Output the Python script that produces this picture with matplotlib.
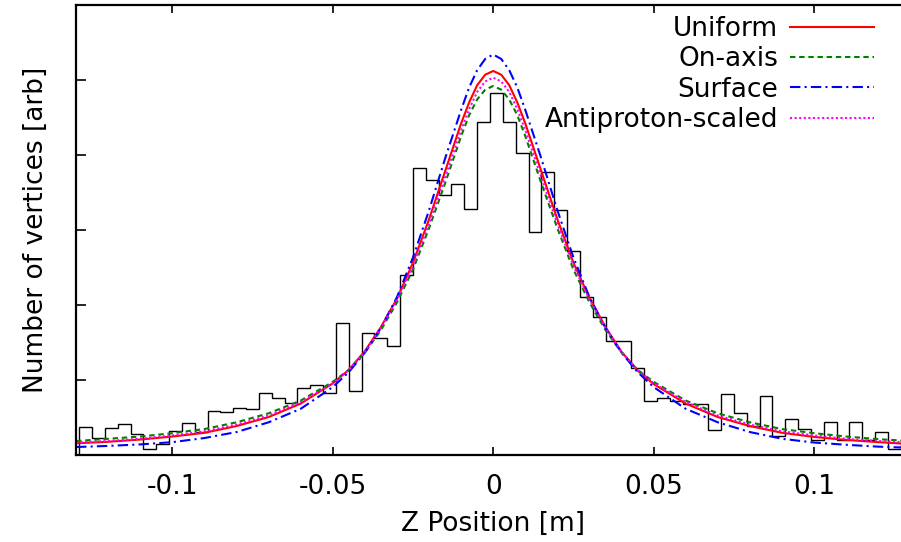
import numpy as np
import matplotlib
matplotlib.use('Agg')
import matplotlib.pyplot as plt

plt.rcParams['font.family'] = ['DejaVu Sans']
plt.rcParams['axes.unicode_minus'] = False

# histogram: 0.004 m bins starting at -0.129 m
bin_start = -0.129
bin_width = 0.004
counts = [0.37, 0.22, 0.35, 0.41, 0.27, 0.08, 0.14, 0.31, 0.42, 0.30,
          0.58, 0.57, 0.62, 0.61, 0.82, 0.76, 0.69, 0.89, 0.93, 0.82,
          1.75, 0.85, 1.62, 1.56, 1.45, 2.39, 3.83, 3.67, 3.46, 3.61,
          3.28, 4.44, 4.83, 4.44, 4.02, 2.97, 3.77, 3.27, 2.72, 2.10,
          1.83, 1.52, 1.52, 1.16, 0.72, 0.76, 0.72, 0.68, 0.68, 0.33,
          0.81, 0.55, 0.38, 0.78, 0.25, 0.47, 0.34, 0.20, 0.43, 0.19,
          0.44, 0.20, 0.30, 0.07, 0.20]

# fitted curves
z = [-0.13, -0.12, -0.11, -0.10, -0.09, -0.08, -0.07, -0.06, -0.05, -0.045,
     -0.04, -0.035, -0.03, -0.025, -0.02, -0.015, -0.01, -0.0075, -0.005, -0.0025,
     0.0,
     0.0025, 0.005, 0.0075, 0.01, 0.015, 0.02, 0.025, 0.03, 0.035, 0.04,
     0.045, 0.05, 0.06, 0.07, 0.08, 0.09, 0.10, 0.11, 0.12, 0.13]

uniform = [0.15, 0.17, 0.20, 0.24, 0.29, 0.38, 0.50, 0.68, 0.95, 1.13,
           1.38, 1.70, 2.08, 2.56, 3.14, 3.78, 4.42, 4.70, 4.93, 5.07,
           5.12,
           5.07, 4.93, 4.70, 4.42, 3.78, 3.14, 2.56, 2.09, 1.70, 1.37,
           1.12, 0.94, 0.68, 0.50, 0.38, 0.29, 0.235, 0.195, 0.165, 0.14]

on_axis = [0.18, 0.21, 0.24, 0.285, 0.34, 0.43, 0.55, 0.72, 0.97, 1.13,
           1.36, 1.66, 2.03, 2.47, 3.02, 3.62, 4.25, 4.53, 4.74, 4.87,
           4.92,
           4.87, 4.74, 4.53, 4.25, 3.62, 3.02, 2.47, 2.03, 1.66, 1.36,
           1.13, 0.97, 0.72, 0.55, 0.43, 0.34, 0.285, 0.24, 0.205, 0.18]

surface = [0.10, 0.115, 0.135, 0.165, 0.22, 0.30, 0.43, 0.61, 0.90, 1.10,
           1.36, 1.69, 2.10, 2.63, 3.26, 3.95, 4.60, 4.90, 5.13, 5.28,
           5.34,
           5.28, 5.13, 4.90, 4.60, 3.95, 3.26, 2.63, 2.10, 1.69, 1.36,
           1.10, 0.90, 0.61, 0.43, 0.30, 0.21, 0.16, 0.13, 0.105, 0.09]

antiproton = [0.16, 0.18, 0.21, 0.255, 0.31, 0.40, 0.52, 0.70, 0.95, 1.13,
              1.37, 1.69, 2.07, 2.52, 3.08, 3.70, 4.33, 4.61, 4.84, 4.98,
              5.03,
              4.98, 4.84, 4.61, 4.33, 3.70, 3.08, 2.52, 2.07, 1.69, 1.37,
              1.13, 0.95, 0.70, 0.52, 0.40, 0.31, 0.255, 0.21, 0.18, 0.16]

xticks = [-0.1, -0.05, 0, 0.05, 0.1]
xticklabels = ['-0.1', '-0.05', '0', '0.05', '0.1']

fig = plt.figure(figsize=(9.01, 5.42), dpi=100)
# right border falls just outside the picture, as in the original
ax = fig.add_axes([0.0844, 0.1614, 0.926, 0.8293])

edges = bin_start + bin_width * np.arange(len(counts) + 1)
ax.stairs(counts, edges, color='black', lw=1.0, baseline=0)

lw = 1.5
ax.plot(z, uniform, color='#ff0000', lw=lw, label='Uniform')
ax.plot(z, on_axis, color='#008000', lw=lw, dashes=(2.6, 1.8), label='On-axis')
ax.plot(z, surface, color='#0000ff', lw=lw, dashes=(5, 2, 1, 2), label='Surface')
ax.plot(z, antiproton, color='#ff00ff', lw=lw, dashes=(1, 1.2), label='Antiproton-scaled')

ax.set_xlim(-0.13, 0.13)
ax.set_ylim(0, 6)
ax.set_xticks(xticks)
ax.set_xticklabels(xticklabels, fontsize=19)
ax.set_yticks([1, 2, 3, 4, 5])
ax.set_yticklabels([])
ax.tick_params(axis='x', direction='in', length=6, width=1.2, pad=14, top=True)
ax.tick_params(axis='y', direction='in', length=7, width=1.2)
for s in ax.spines.values():
    s.set_linewidth(1.6)

ax.set_xlabel('Z Position [m]', fontsize=19, labelpad=8)
ax.set_ylabel('Number of vertices [arb]', fontsize=19, labelpad=16)

leg = ax.legend(loc='upper right', bbox_to_anchor=(0.957, 0.975), frameon=False,
                fontsize=19, markerfirst=False, handlelength=3.2,
                handletextpad=0.45, labelspacing=0.16, borderpad=0, borderaxespad=0)

fig.savefig('out.png', dpi=100)
